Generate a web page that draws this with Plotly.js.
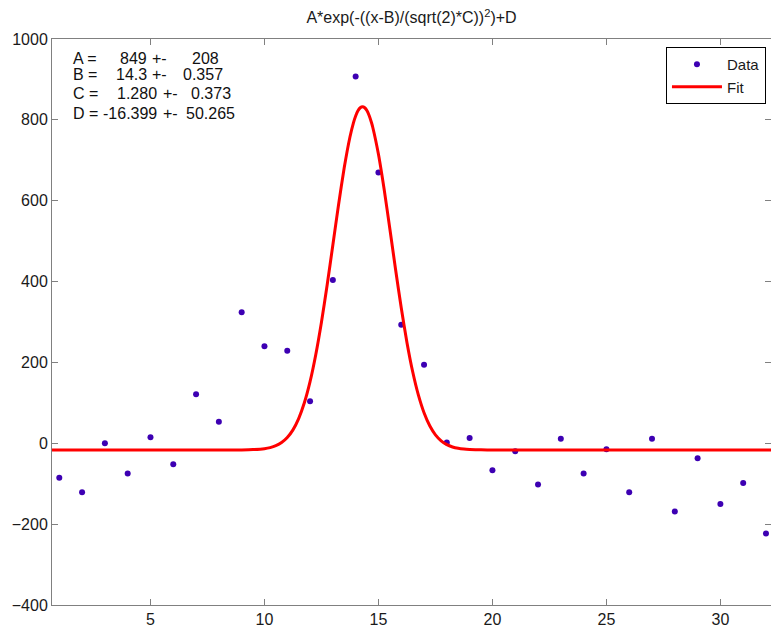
<!DOCTYPE html>
<html>
<head>
<meta charset="utf-8">
<script src="https://cdn.plot.ly/plotly-3.0.1.min.js"></script>
<style>html,body{margin:0;padding:0;background:#fff;}#chart{width:771px;height:630px;}</style>
</head>
<body>
<div id="chart"></div>
<script>
// Measured data points
var dataX = [1,2,3,4,5,6,7,8,9,10,11,12,13,14,15,16,17,18,19,20,21,22,23,24,25,26,27,28,29,30,31,32];
var dataY = [-85,-121,0,-75,15,-52,121,53,324,240,229,104,404,907,670,293,194,2,13,-67,-20,-102,11,-75,-15,-121,11,-169,-37,-150,-98,-223];

// Fit curve
var fitX = [0.5,2,4,6,8,9,9.5,10,10.25,10.5,10.75,11,11.25,11.5,11.75,12,12.25,12.5,12.75,13,13.25,13.5,13.75,13.9,14,14.1,14.2,14.3,14.4,14.5,14.6,14.7,14.75,15,15.25,15.5,15.75,16,16.25,16.5,16.75,17,17.25,17.5,17.75,18,18.25,18.5,18.75,19,19.5,20,22,24,26,28,30,32.5];
var fitY = [-16.4,-16.4,-16.4,-16.4,-16.4,-16.3,-15.6,-13.4,-10.7,-6.0,1.7,14.2,33.2,61.2,100.3,152.5,219.1,299.5,391.4,490.5,590.1,682.0,757.7,792.1,809.6,822.3,830.0,832.6,830.0,822.3,809.6,792.1,781.7,714.7,628.2,530.7,430.5,335.1,249.6,177.5,119.6,75.4,43.2,20.9,6.1,-3.4,-9.1,-12.5,-14.4,-15.4,-16.2,-16.4,-16.4,-16.4,-16.4,-16.4,-16.4,-16.4];

// Fit parameter table
var paramNames = ["A =", "B =", "C =", "D ="];
var paramValues = ["849", "14.3", "1.280", "-16.399"];
var paramErrors = ["208", "0.357", "0.373", "50.265"];
var titleText = "A*exp(-((x-B)/(sqrt(2)*C))<sup>2</sup>)+D";

var FONT = "Liberation Sans, Arial, Helvetica, sans-serif";

var traces = [
  {x: dataX, y: dataY, mode: "markers", type: "scatter", name: "Data",
   marker: {color: "#3d00b3", size: 6}},
  {x: fitX, y: fitY, mode: "lines", type: "scatter", name: "Fit",
   line: {color: "#ff0000", width: 3, shape: "spline", smoothing: 0.6}}
];

// layout positions (pixels from image left) for the parameter table
var plotL = 52, plotW = 719;
function px(p){ return (p - plotL) / plotW; }
var rowY = [0.9659, 0.9364, 0.9041, 0.8687];
var valueRight = [148, 148, 158, 158];
var pmLeft = [151, 151, 162, 162];
var errRight = [220, 224, 232, 236];

var annotations = [];
var tfont = {family: FONT, size: 16, color: "#111"};
for (var i = 0; i < paramNames.length; i++) {
  annotations.push({xref: "paper", yref: "paper", x: px(72), y: rowY[i], xanchor: "left", yanchor: "middle", text: paramNames[i], showarrow: false, font: tfont, borderpad: 0});
  annotations.push({xref: "paper", yref: "paper", x: px(valueRight[i]), y: rowY[i], xanchor: "right", yanchor: "middle", text: paramValues[i], showarrow: false, font: tfont, borderpad: 0});
  annotations.push({xref: "paper", yref: "paper", x: px(pmLeft[i]), y: rowY[i], xanchor: "left", yanchor: "middle", text: "+-", showarrow: false, font: tfont, borderpad: 0});
  annotations.push({xref: "paper", yref: "paper", x: px(errRight[i]), y: rowY[i], xanchor: "right", yanchor: "middle", text: paramErrors[i], showarrow: false, font: tfont, borderpad: 0});
}

var axisCommon = {
  showgrid: false, zeroline: false, showline: true, linecolor: "#808080", linewidth: 1,
  mirror: "ticks", ticks: "inside", ticklen: 6, tickcolor: "#808080", tickwidth: 1,
  tickfont: {family: FONT, size: 16, color: "#1a1a1a"}, fixedrange: true
};

var layout = {
  width: 771, height: 630,
  margin: {l: 52, r: 0, t: 39, b: 25, pad: 0},
  paper_bgcolor: "#fff", plot_bgcolor: "#fff",
  title: {text: titleText, font: {family: FONT, size: 16, color: "#1a1a1a"}, x: 0.5, xref: "paper", xanchor: "center", y: 0.972, yref: "container", yanchor: "middle"},
  xaxis: Object.assign({}, axisCommon, {range: [0.68, 32.22], tickvals: [5,10,15,20,25,30]}),
  yaxis: Object.assign({}, axisCommon, {range: [-400, 1000], tickvals: [-400,-200,0,200,400,600,800,1000]}),
  showlegend: true,
  legend: {x: 0.993, y: 0.986, xanchor: "right", yanchor: "top", bgcolor: "#fff",
           bordercolor: "#000", borderwidth: 1, font: {family: FONT, size: 15, color: "#1a1a1a"},
           itemwidth: 50, tracegroupgap: 0},
  annotations: annotations
};

Plotly.newPlot("chart", traces, layout, {displayModeBar: false, staticPlot: true});
</script>
</body>
</html>
